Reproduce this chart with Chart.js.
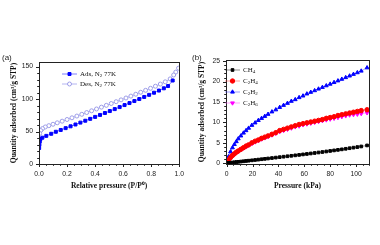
<!DOCTYPE html>
<html>
<head>
<meta charset="utf-8">
<style>
  body { margin: 0; background: #fff; width: 380px; height: 245px; overflow: hidden; position: relative; }
  canvas { position: absolute; top: 0; }
  #chartA { left: 0; }
  #chartB { left: 190px; }
</style>
</head>
<body>
<canvas id="chartA" width="190" height="245"></canvas>
<canvas id="chartB" width="190" height="245"></canvas>
<script src="https://cdn.jsdelivr.net/npm/chart.js@4/dist/chart.umd.min.js"></script>
<script>
  // panel (a): N2 isotherm at 77 K
  var adsP = [0.001, 0.003, 0.006, 0.01, 0.024, 0.052, 0.087, 0.12, 0.155, 0.19, 0.225, 0.26, 0.295, 0.33, 0.365, 0.40, 0.435, 0.47, 0.505, 0.54, 0.575, 0.61, 0.645, 0.68, 0.715, 0.75, 0.785, 0.82, 0.855, 0.89, 0.92, 0.953];
  var adsQ = [24.6, 29.7, 34.8, 38.4, 40.5, 43.3, 46.5, 49.6, 52.4, 55.2, 58, 60.8, 63.7, 66.6, 69.5, 72.5, 75.5, 78.5, 81.5, 84.5, 87.6, 90.7, 93.8, 96.9, 100, 103.2, 106.4, 109.7, 113, 116.5, 120, 128.5];
  var desP = [0.995, 0.975, 0.96, 0.935, 0.9, 0.865, 0.83, 0.795, 0.76, 0.725, 0.69, 0.655, 0.62, 0.585, 0.55, 0.515, 0.48, 0.445, 0.41, 0.375, 0.34, 0.305, 0.27, 0.235, 0.2, 0.165, 0.13, 0.1, 0.07, 0.045, 0.025, 0.012, 0.005];
  var desQ = [147.5, 141.5, 137, 131, 126.5, 123, 119.7, 116.5, 113.4, 110.4, 107.4, 104.5, 101.6, 98.7, 95.9, 93.1, 90.3, 87.5, 84.7, 81.9, 79.2, 76.5, 73.8, 71.1, 68.5, 65.9, 63.4, 61.2, 59, 57, 54.5, 51.5, 47];
  var ticksAx = [0, 0.2, 0.4, 0.6, 0.8, 1.0];
  var ticksAy = [0, 50, 100, 150];

  // panel (b): gas isotherms
  var pressB = [0.5, 1.5, 3, 4.5, 6, 7.5, 9, 11, 13, 15, 17, 19.5, 22, 24.5, 27, 29.5, 32, 35, 38, 41, 44, 47, 50, 53, 56, 59, 62, 65, 68, 71, 74, 77, 80, 83, 86, 89, 92, 95, 98, 101, 104, 108.5];
  var ch4  = [0.02, 0.06, 0.1, 0.17, 0.22, 0.28, 0.33, 0.4, 0.47, 0.54, 0.61, 0.7, 0.79, 0.88, 0.97, 1.06, 1.15, 1.26, 1.37, 1.48, 1.59, 1.7, 1.81, 1.92, 2.03, 2.15, 2.26, 2.38, 2.5, 2.62, 2.74, 2.87, 3.0, 3.13, 3.26, 3.39, 3.53, 3.67, 3.81, 3.95, 4.1, 4.35];
  var c2h4 = [0.3, 0.8, 1.4, 1.9, 2.3, 2.7, 3.0, 3.4, 3.8, 4.2, 4.5, 5.0, 5.4, 5.7, 6.1, 6.4, 6.7, 7.1, 7.5, 8.0, 8.3, 8.6, 8.9, 9.2, 9.5, 9.7, 9.9, 10.1, 10.3, 10.5, 10.7, 11.0, 11.2, 11.4, 11.7, 11.9, 12.1, 12.3, 12.5, 12.7, 12.9, 13.1];
  var c2h2 = [0.6, 1.6, 2.8, 3.8, 4.6, 5.3, 6.0, 6.7, 7.4, 8.0, 8.6, 9.3, 9.9, 10.5, 11.0, 11.5, 12.0, 12.6, 13.1, 13.7, 14.2, 14.7, 15.2, 15.6, 16.1, 16.5, 17.0, 17.4, 17.8, 18.2, 18.6, 19.0, 19.4, 19.8, 20.2, 20.6, 21.0, 21.4, 21.8, 22.2, 22.6, 23.4];
  var c2h6 = [0.3, 0.7, 1.3, 1.8, 2.2, 2.6, 2.9, 3.3, 3.7, 4.0, 4.4, 4.8, 5.2, 5.5, 5.9, 6.2, 6.5, 6.9, 7.3, 7.7, 8.0, 8.3, 8.6, 8.9, 9.1, 9.4, 9.6, 9.8, 10.0, 10.2, 10.4, 10.6, 10.8, 11.0, 11.2, 11.4, 11.6, 11.8, 11.9, 12.0, 12.15, 12.35];
  var ticksBx = [0, 20, 40, 60, 80, 100];
  var ticksBy = [0, 5, 10, 15, 20, 25];

  function pts(xs, ys) {
    return xs.map(function(x, i) { return { x: x, y: ys[i] }; });
  }

  var tickFont = { family: 'Liberation Sans', size: 6.8 };
  var titleFont = { family: 'Liberation Serif', size: 7.5, weight: 'bold' };

  // frame, outward minor/major ticks, panel letter and hand drawn legend
  var deco = {
    id: 'deco',
    afterDraw: function(chart, args, o) {
      var ctx = chart.ctx, a = chart.chartArea, sx = chart.scales.x, sy = chart.scales.y;
      ctx.save();
      ctx.strokeStyle = '#222';
      ctx.lineWidth = 1;
      ctx.strokeRect(Math.round(a.left) + 0.5, Math.round(a.top) + 0.5, Math.round(a.right - a.left), Math.round(a.bottom - a.top));
      ctx.beginPath();
      var v, p;
      for (v = 0; v <= sx.max + 1e-9; v += o.xMinor) {
        p = Math.round(sx.getPixelForValue(v)) + 0.5;
        var majX = Math.abs(Math.round(v / o.xMajor) * o.xMajor - v) < 1e-6;
        ctx.moveTo(p, a.bottom);
        ctx.lineTo(p, a.bottom + (majX ? 3 : 1.8));
      }
      for (v = 0; v <= sy.max + 1e-9; v += o.yMinor) {
        p = Math.round(sy.getPixelForValue(v)) + 0.5;
        var majY = Math.abs(Math.round(v / o.yMajor) * o.yMajor - v) < 1e-6;
        ctx.moveTo(a.left, p);
        ctx.lineTo(a.left - (majY ? 3 : 1.8), p);
      }
      ctx.stroke();

      ctx.fillStyle = '#222';
      ctx.font = '8px "Liberation Sans"';
      ctx.textBaseline = 'middle';
      ctx.fillText(o.letter, 2, 58);

      o.legend.forEach(function(item, i) {
        var ds = chart.data.datasets[item.ds];
        var y = o.legY + i * o.legDy;
        ctx.strokeStyle = ds.borderColor;
        ctx.lineWidth = 1;
        ctx.beginPath();
        ctx.moveTo(o.legX, y);
        ctx.lineTo(o.legX + 15, y);
        ctx.stroke();
        ctx.fillStyle = ds.pointBackgroundColor;
        ctx.strokeStyle = ds.pointBorderColor;
        ctx.lineWidth = ds.pointBorderWidth;
        Chart.helpers.drawPoint(ctx, {
          pointStyle: ds.pointStyle, rotation: ds.pointRotation || 0,
          radius: ds.pointRadius, borderWidth: ds.pointBorderWidth
        }, o.legX + 7.5, y);
        var tx = o.legX + 18;
        ctx.fillStyle = '#111';
        item.parts.forEach(function(part) {
          var sub = part.length > 1;
          ctx.font = (sub ? '5px' : '7px') + ' "Liberation Serif"';
          ctx.fillText(part[0], tx, sub ? y + 2 : y);
          tx += ctx.measureText(part[0]).width;
        });
      });
      ctx.restore();
    }
  };

  function axis(opts) {
    return Object.assign({
      type: 'linear',
      grid: { display: false, drawTicks: false },
      border: { display: false },
      ticks: { font: tickFont, color: '#222', padding: 6, autoSkip: false }
    }, opts);
  }

  var lineBase = { showLine: true, borderWidth: 1, pointBorderWidth: 1 };

  new Chart(document.getElementById('chartA'), {
    type: 'scatter',
    data: {
      datasets: [
        Object.assign({}, lineBase, {
          label: 'Ads, N2 77K', data: pts(adsP, adsQ),
          borderColor: 'rgba(40,40,255,0.6)', pointStyle: 'rect', pointRadius: 2.1,
          pointBackgroundColor: '#0000ff', pointBorderColor: '#0000ff'
        }),
        Object.assign({}, lineBase, {
          label: 'Des, N2 77K', data: pts(desP, desQ),
          borderColor: 'rgba(150,150,235,0.7)', pointStyle: 'circle', pointRadius: 2,
          pointBackgroundColor: '#ffffff', pointBorderColor: '#9d9de8'
        })
      ]
    },
    options: {
      responsive: false, animation: false, devicePixelRatio: 1,
      layout: { padding: { left: 0, right: 9, top: 62, bottom: 51 } },
      plugins: {
        legend: { display: false }, tooltip: { enabled: false },
        deco: {
          letter: '(a)', xMinor: 0.05, xMajor: 0.2, yMinor: 10, yMajor: 50,
          legX: 62, legY: 74, legDy: 10,
          legend: [
            { ds: 0, parts: [['Ads, N'], ['2', 1], [' 77K']] },
            { ds: 1, parts: [['Des, N'], ['2', 1], [' 77K']] }
          ]
        }
      },
      scales: {
        x: axis({
          min: 0, max: 1,
          afterFit: function(s) { s.height = 30; },
          afterBuildTicks: function(s) { s.ticks = ticksAx.map(function(v) { return { value: v }; }); },
          ticks: { font: tickFont, color: '#222', padding: 6, callback: function(v) { return v.toFixed(1); } },
          title: { display: true, text: 'Relative pressure (P/P\u2070)', font: titleFont, color: '#111', padding: { top: 0, bottom: 3 } }
        }),
        y: axis({
          min: 0, max: 157,
          afterFit: function(s) { s.width = 39; },
          afterBuildTicks: function(s) { s.ticks = ticksAy.map(function(v) { return { value: v }; }); },
          title: { display: true, text: 'Quantity adsorbed (cm\u00b3/g STP)', font: titleFont, color: '#111', padding: { top: 10, bottom: 0 } }
        })
      }
    },
    plugins: [deco]
  });

  function gasSet(label, ys, color, line, style, rot) {
    return Object.assign({}, lineBase, {
      label: label, data: pts(pressB, ys), borderColor: line,
      pointStyle: style, pointRotation: rot || 0, pointRadius: style === 'rect' ? 1.9 : 2.2,
      pointBackgroundColor: color, pointBorderColor: color
    });
  }

  new Chart(document.getElementById('chartB'), {
    type: 'scatter',
    data: {
      datasets: [
        gasSet('CH4', ch4, '#000000', 'rgba(0,0,0,0.45)', 'rect'),
        gasSet('C2H4', c2h4, '#ff0000', 'rgba(255,60,60,0.5)', 'circle'),
        gasSet('C2H2', c2h2, '#0000ff', 'rgba(60,60,255,0.5)', 'triangle'),
        gasSet('C2H6', c2h6, '#ff00ff', 'rgba(255,80,255,0.5)', 'triangle', 180)
      ]
    },
    options: {
      responsive: false, animation: false, devicePixelRatio: 1,
      layout: { padding: { left: 0, right: 11, top: 60, bottom: 51 } },
      plugins: {
        legend: { display: false }, tooltip: { enabled: false },
        deco: {
          letter: '(b)', xMinor: 5, xMajor: 20, yMinor: 1, yMajor: 5,
          legX: 35, legY: 70, legDy: 11,
          legend: [
            { ds: 0, parts: [['CH'], ['4', 1]] },
            { ds: 1, parts: [['C'], ['2', 1], ['H'], ['4', 1]] },
            { ds: 2, parts: [['C'], ['2', 1], ['H'], ['2', 1]] },
            { ds: 3, parts: [['C'], ['2', 1], ['H'], ['6', 1]] }
          ]
        }
      },
      scales: {
        x: axis({
          min: -0.5, max: 110,
          afterFit: function(s) { s.height = 30; },
          afterBuildTicks: function(s) { s.ticks = ticksBx.map(function(v) { return { value: v }; }); },
          title: { display: true, text: 'Pressure (kPa)', font: titleFont, color: '#111', padding: { top: 0, bottom: 3 } }
        }),
        y: axis({
          min: -0.2, max: 25.3,
          afterFit: function(s) { s.width = 36; },
          afterBuildTicks: function(s) { s.ticks = ticksBy.map(function(v) { return { value: v }; }); },
          title: { display: true, text: 'Quantity adsorbed (cm\u00b3/g STP)', font: titleFont, color: '#111', padding: { top: 8, bottom: 0 } }
        })
      }
    },
    plugins: [deco]
  });
</script>
</body>
</html>
